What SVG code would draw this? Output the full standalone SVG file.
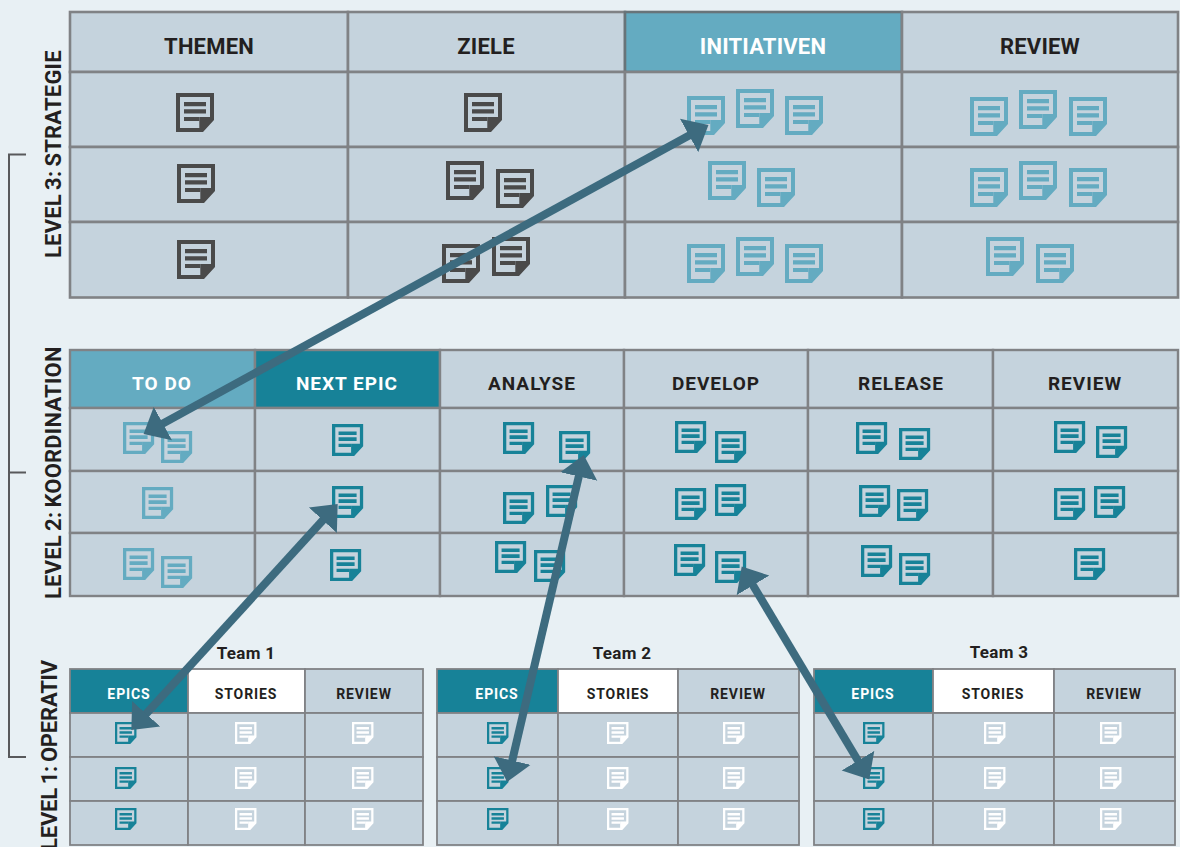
<svg xmlns="http://www.w3.org/2000/svg" width="1180" height="847" viewBox="0 0 1180 847">
<style>
text{font-family:Roboto,"Liberation Sans",sans-serif;font-weight:700;fill:#231f20;text-anchor:middle}
.c{fill:#c5d3dd;stroke:#808285;stroke-width:2.6}
.m{stroke-width:2.4}
.b{stroke-width:1.8}
.hl{fill:#64abc1}.ht{fill:#178298}.hw{fill:#fff}
.h1{font-size:22px;letter-spacing:.2px}.h2{font-size:19px;letter-spacing:1px}.h3{font-size:14px;letter-spacing:.9px}
.w1{fill:#fff}
.tm{font-size:17px;letter-spacing:.3px}
.sd{font-size:22px;letter-spacing:.2px;word-spacing:-1.5px;text-anchor:start}
.d{color:#4a4a4a}.l{color:#64abc1}.t{color:#178298}.w{color:#fff}
.bk{fill:none;stroke:#58595b;stroke-width:2}
.ar{fill:none;stroke:#3d6b7f;stroke-width:8;marker-start:url(#ah);marker-end:url(#ah)}
</style>
<defs>
<g id="nl"><path fill="currentColor" fill-rule="evenodd" d="M0 0H38V27L27 39H0ZM4 4V35H23.300V24H34V4Z"/><path fill="currentColor" d="M8 9H30V13.300H8ZM8 16.300H30V20.600H8ZM8 24H23.300V28H8Z"/></g>
<g id="nm" transform="scale(.82)"><use href="#nl"/></g>
<g id="ns" transform="scale(.565)"><use href="#nl"/></g>
<marker id="ah" markerUnits="userSpaceOnUse" markerWidth="24" markerHeight="40" viewBox="0 0 24 40" refX="1" refY="20" orient="auto-start-reverse"><path fill="#3d6b7f" d="M0 1L22 20L0 39Z"/></marker>
</defs>
<rect width="1180" height="847" fill="#e8f0f4"/>
<g id="bracket"><path class="bk" d="M26 154.500H9V757H26M9 472.500H26"/></g>
<g id="side-labels">
<text class="sd" transform="translate(61 258) rotate(-90)">LEVEL 3: STRATEGIE</text>
<text class="sd" transform="translate(61 599) rotate(-90)">LEVEL 2: KOORDINATION</text>
<text class="sd" style="letter-spacing:-.2px" transform="translate(57 850) rotate(-90)">LEVEL 1: OPERATIV</text>
</g>
<g id="board-strategie">
<g id="s-themen"><rect class="c" x="70" y="12" width="278" height="60"/><text class="h1" x="209" y="54">THEMEN</text></g>
<g id="s-ziele"><rect class="c" x="348" y="12" width="277" height="60"/><text class="h1" x="486" y="54">ZIELE</text></g>
<g id="s-initiativen"><rect class="c hl" style="stroke:#687479" x="625" y="12" width="277" height="60"/><text class="h1 w1" x="763" y="54">INITIATIVEN</text></g>
<g id="s-review"><rect class="c" x="902" y="12" width="276" height="60"/><text class="h1" x="1040" y="54">REVIEW</text></g>
<g id="s-r1c1"><rect class="c" x="70" y="72" width="278" height="75"/><use class="d" href="#nl" x="176" y="93"/></g>
<g id="s-r1c2"><rect class="c" x="348" y="72" width="277" height="75"/><use class="d" href="#nl" x="464" y="93"/></g>
<g id="s-r1c3"><rect class="c" x="625" y="72" width="277" height="75"/><use class="l" href="#nl" x="687" y="96"/><use class="l" href="#nl" x="736" y="89"/><use class="l" href="#nl" x="785" y="96"/></g>
<g id="s-r1c4"><rect class="c" x="902" y="72" width="276" height="75"/><use class="l" href="#nl" x="970" y="97"/><use class="l" href="#nl" x="1019" y="90"/><use class="l" href="#nl" x="1069" y="97"/></g>
<g id="s-r2c1"><rect class="c" x="70" y="147" width="278" height="75"/><use class="d" href="#nl" x="177" y="164"/></g>
<g id="s-r2c2"><rect class="c" x="348" y="147" width="277" height="75"/><use class="d" href="#nl" x="446" y="161"/><use class="d" href="#nl" x="496" y="169"/></g>
<g id="s-r2c3"><rect class="c" x="625" y="147" width="277" height="75"/><use class="l" href="#nl" x="708" y="161"/><use class="l" href="#nl" x="757" y="168"/></g>
<g id="s-r2c4"><rect class="c" x="902" y="147" width="276" height="75"/><use class="l" href="#nl" x="970" y="168"/><use class="l" href="#nl" x="1019" y="161"/><use class="l" href="#nl" x="1069" y="168"/></g>
<g id="s-r3c1"><rect class="c" x="70" y="222" width="278" height="75.500"/><use class="d" href="#nl" x="177" y="240"/></g>
<g id="s-r3c2"><rect class="c" x="348" y="222" width="277" height="75.500"/><use class="d" href="#nl" x="442" y="244"/><use class="d" href="#nl" x="492" y="237"/></g>
<g id="s-r3c3"><rect class="c" x="625" y="222" width="277" height="75.500"/><use class="l" href="#nl" x="687" y="244"/><use class="l" href="#nl" x="736" y="237"/><use class="l" href="#nl" x="785" y="244"/></g>
<g id="s-r3c4"><rect class="c" x="902" y="222" width="276" height="75.500"/><use class="l" href="#nl" x="986" y="237"/><use class="l" href="#nl" x="1036" y="244"/></g>
</g>
<g id="board-koordination">
<g id="k-todo"><rect class="c m hl" x="70" y="350" width="185" height="58"/><text class="h2 w1" x="162" y="390">TO DO</text></g>
<g id="k-next"><rect class="c m ht" x="255" y="350" width="185" height="58"/><text class="h2 w1" x="347" y="390">NEXT EPIC</text></g>
<g id="k-analyse"><rect class="c m" x="440" y="350" width="184" height="58"/><text class="h2" x="532" y="390">ANALYSE</text></g>
<g id="k-develop"><rect class="c m" x="624" y="350" width="184" height="58"/><text class="h2" x="716" y="390">DEVELOP</text></g>
<g id="k-release"><rect class="c m" x="808" y="350" width="185" height="58"/><text class="h2" x="901" y="390">RELEASE</text></g>
<g id="k-review"><rect class="c m" x="993" y="350" width="185" height="58"/><text class="h2" x="1085" y="390">REVIEW</text></g>
<g id="k-r1c1"><rect class="c m" x="70" y="408" width="185" height="63"/><use class="l" href="#nm" x="123" y="422"/><use class="l" href="#nm" x="161" y="431"/></g>
<g id="k-r1c2"><rect class="c m" x="255" y="408" width="185" height="63"/><use class="t" href="#nm" x="332" y="424"/></g>
<g id="k-r1c3"><rect class="c m" x="440" y="408" width="184" height="63"/><use class="t" href="#nm" x="503" y="422"/><use class="t" href="#nm" x="559" y="431"/></g>
<g id="k-r1c4"><rect class="c m" x="624" y="408" width="184" height="63"/><use class="t" href="#nm" x="675" y="421"/><use class="t" href="#nm" x="715" y="431"/></g>
<g id="k-r1c5"><rect class="c m" x="808" y="408" width="185" height="63"/><use class="t" href="#nm" x="856" y="422"/><use class="t" href="#nm" x="899" y="428"/></g>
<g id="k-r1c6"><rect class="c m" x="993" y="408" width="185" height="63"/><use class="t" href="#nm" x="1054" y="421"/><use class="t" href="#nm" x="1096" y="426"/></g>
<g id="k-r2c1"><rect class="c m" x="70" y="471" width="185" height="62"/><use class="l" href="#nm" x="142" y="487"/></g>
<g id="k-r2c2"><rect class="c m" x="255" y="471" width="185" height="62"/><use class="t" href="#nm" x="332" y="486"/></g>
<g id="k-r2c3"><rect class="c m" x="440" y="471" width="184" height="62"/><use class="t" href="#nm" x="503" y="492"/><use class="t" href="#nm" x="546" y="485"/></g>
<g id="k-r2c4"><rect class="c m" x="624" y="471" width="184" height="62"/><use class="t" href="#nm" x="675" y="488"/><use class="t" href="#nm" x="715" y="484"/></g>
<g id="k-r2c5"><rect class="c m" x="808" y="471" width="185" height="62"/><use class="t" href="#nm" x="859" y="485"/><use class="t" href="#nm" x="897" y="489"/></g>
<g id="k-r2c6"><rect class="c m" x="993" y="471" width="185" height="62"/><use class="t" href="#nm" x="1054" y="488"/><use class="t" href="#nm" x="1094" y="486"/></g>
<g id="k-r3c1"><rect class="c m" x="70" y="533" width="185" height="63"/><use class="l" href="#nm" x="123" y="548"/><use class="l" href="#nm" x="161" y="556"/></g>
<g id="k-r3c2"><rect class="c m" x="255" y="533" width="185" height="63"/><use class="t" href="#nm" x="330" y="549"/></g>
<g id="k-r3c3"><rect class="c m" x="440" y="533" width="184" height="63"/><use class="t" href="#nm" x="495" y="541"/><use class="t" href="#nm" x="534" y="550"/></g>
<g id="k-r3c4"><rect class="c m" x="624" y="533" width="184" height="63"/><use class="t" href="#nm" x="674" y="544"/><use class="t" href="#nm" x="715" y="551"/></g>
<g id="k-r3c5"><rect class="c m" x="808" y="533" width="185" height="63"/><use class="t" href="#nm" x="861" y="545"/><use class="t" href="#nm" x="899" y="553"/></g>
<g id="k-r3c6"><rect class="c m" x="993" y="533" width="185" height="63"/><use class="t" href="#nm" x="1074" y="548"/></g>
</g>
<g id="team-1">
<text class="tm" x="246" y="659">Team 1</text>
<g id="t1-epics"><rect class="c b ht" x="70" y="669" width="118" height="44"/><text class="h3 w1" x="129" y="699">EPICS</text></g>
<g id="t1-stories"><rect class="c b hw" x="188" y="669" width="117" height="44"/><text class="h3" x="246" y="699">STORIES</text></g>
<g id="t1-review"><rect class="c b" x="305" y="669" width="118" height="44"/><text class="h3" x="364" y="699">REVIEW</text></g>
<g id="t1-r1c1"><rect class="c b" x="70" y="713" width="118" height="44"/><use class="t" href="#ns" x="115" y="722"/></g>
<g id="t1-r1c2"><rect class="c b" x="188" y="713" width="117" height="44"/><use class="w" href="#ns" x="235" y="722"/></g>
<g id="t1-r1c3"><rect class="c b" x="305" y="713" width="118" height="44"/><use class="w" href="#ns" x="352" y="722"/></g>
<g id="t1-r2c1"><rect class="c b" x="70" y="757" width="118" height="44"/><use class="t" href="#ns" x="115" y="767"/></g>
<g id="t1-r2c2"><rect class="c b" x="188" y="757" width="117" height="44"/><use class="w" href="#ns" x="235" y="767"/></g>
<g id="t1-r2c3"><rect class="c b" x="305" y="757" width="118" height="44"/><use class="w" href="#ns" x="352" y="767"/></g>
<g id="t1-r3c1"><rect class="c b" x="70" y="801" width="118" height="44"/><use class="t" href="#ns" x="115" y="808"/></g>
<g id="t1-r3c2"><rect class="c b" x="188" y="801" width="117" height="44"/><use class="w" href="#ns" x="235" y="808"/></g>
<g id="t1-r3c3"><rect class="c b" x="305" y="801" width="118" height="44"/><use class="w" href="#ns" x="352" y="808"/></g>
</g>
<g id="team-2">
<text class="tm" x="622" y="659">Team 2</text>
<g id="t2-epics"><rect class="c b ht" x="437" y="669" width="121" height="44"/><text class="h3 w1" x="497" y="699">EPICS</text></g>
<g id="t2-stories"><rect class="c b hw" x="558" y="669" width="120" height="44"/><text class="h3" x="618" y="699">STORIES</text></g>
<g id="t2-review"><rect class="c b" x="678" y="669" width="121" height="44"/><text class="h3" x="738" y="699">REVIEW</text></g>
<g id="t2-r1c1"><rect class="c b" x="437" y="713" width="121" height="44"/><use class="t" href="#ns" x="487" y="722"/></g>
<g id="t2-r1c2"><rect class="c b" x="558" y="713" width="120" height="44"/><use class="w" href="#ns" x="607" y="722"/></g>
<g id="t2-r1c3"><rect class="c b" x="678" y="713" width="121" height="44"/><use class="w" href="#ns" x="723" y="722"/></g>
<g id="t2-r2c1"><rect class="c b" x="437" y="757" width="121" height="44"/><use class="t" href="#ns" x="487" y="767"/></g>
<g id="t2-r2c2"><rect class="c b" x="558" y="757" width="120" height="44"/><use class="w" href="#ns" x="607" y="767"/></g>
<g id="t2-r2c3"><rect class="c b" x="678" y="757" width="121" height="44"/><use class="w" href="#ns" x="723" y="767"/></g>
<g id="t2-r3c1"><rect class="c b" x="437" y="801" width="121" height="44"/><use class="t" href="#ns" x="487" y="808"/></g>
<g id="t2-r3c2"><rect class="c b" x="558" y="801" width="120" height="44"/><use class="w" href="#ns" x="607" y="808"/></g>
<g id="t2-r3c3"><rect class="c b" x="678" y="801" width="121" height="44"/><use class="w" href="#ns" x="723" y="808"/></g>
</g>
<g id="team-3">
<text class="tm" x="999" y="658">Team 3</text>
<g id="t3-epics"><rect class="c b ht" x="814" y="669" width="119" height="44"/><text class="h3 w1" x="873" y="699">EPICS</text></g>
<g id="t3-stories"><rect class="c b hw" x="933" y="669" width="121" height="44"/><text class="h3" x="993" y="699">STORIES</text></g>
<g id="t3-review"><rect class="c b" x="1054" y="669" width="121" height="44"/><text class="h3" x="1114" y="699">REVIEW</text></g>
<g id="t3-r1c1"><rect class="c b" x="814" y="713" width="119" height="44"/><use class="t" href="#ns" x="863" y="722"/></g>
<g id="t3-r1c2"><rect class="c b" x="933" y="713" width="121" height="44"/><use class="w" href="#ns" x="984" y="722"/></g>
<g id="t3-r1c3"><rect class="c b" x="1054" y="713" width="121" height="44"/><use class="w" href="#ns" x="1100" y="722"/></g>
<g id="t3-r2c1"><rect class="c b" x="814" y="757" width="119" height="44"/><use class="t" href="#ns" x="863" y="767"/></g>
<g id="t3-r2c2"><rect class="c b" x="933" y="757" width="121" height="44"/><use class="w" href="#ns" x="984" y="767"/></g>
<g id="t3-r2c3"><rect class="c b" x="1054" y="757" width="121" height="44"/><use class="w" href="#ns" x="1100" y="767"/></g>
<g id="t3-r3c1"><rect class="c b" x="814" y="801" width="119" height="44"/><use class="t" href="#ns" x="863" y="808"/></g>
<g id="t3-r3c2"><rect class="c b" x="933" y="801" width="121" height="44"/><use class="w" href="#ns" x="984" y="808"/></g>
<g id="t3-r3c3"><rect class="c b" x="1054" y="801" width="121" height="44"/><use class="w" href="#ns" x="1100" y="808"/></g>
</g>
<g id="connectors">
<path class="ar" d="M690 135L162 424"/>
<path class="ar" d="M323.500 519.500L145.500 714.500"/>
<path class="ar" d="M579 475.500L512 761.500"/>
<path class="ar" d="M752.500 584.500L858.500 761.500"/>
</g>
</svg>
